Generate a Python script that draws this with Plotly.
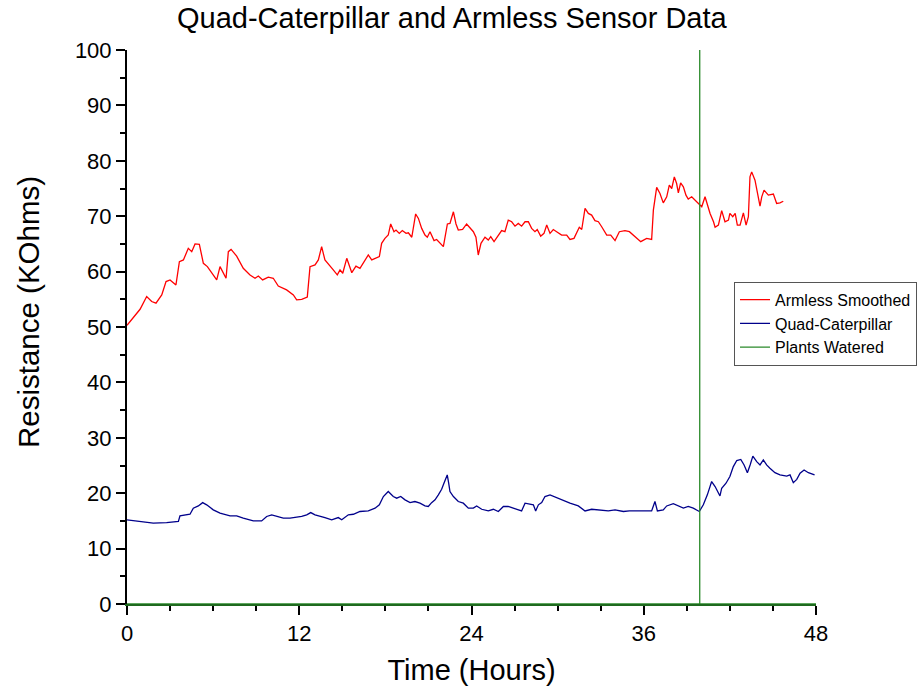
import plotly.graph_objects as go

# Armless sensor, smoothed resistance (KOhms) vs time (hours)
armless_t = [0, 0.35, 0.91, 1.37, 1.72, 2.02, 2.42, 2.72, 3.0, 3.41, 3.65, 3.93, 4.27, 4.51, 4.74, 5.04,
             5.32, 5.6, 6.25, 6.48, 6.71, 6.9, 7.06, 7.25, 7.64, 8.1, 8.57, 8.92, 9.15, 9.45, 9.84, 10.19,
             10.54, 11.12, 11.59, 11.82, 12.17, 12.56, 12.75, 13.1, 13.33, 13.56, 13.79, 14.14, 14.37, 14.65,
             14.84, 15.03, 15.31, 15.66, 15.95, 16.23, 16.81, 17.05, 17.58, 17.74, 17.97, 18.2, 18.37, 18.6,
             18.74, 18.97, 19.18, 19.44, 19.6, 19.84, 20.11, 20.3, 20.53, 20.76, 20.92, 21.11, 21.39, 21.57,
             21.92, 22.04, 22.32, 22.5, 22.74, 22.92, 23.08, 23.38, 23.66, 23.9, 24.13, 24.31, 24.47, 24.66,
             24.94, 25.17, 25.34, 25.57, 25.87, 26.1, 26.33, 26.56, 26.8, 27.03, 27.26, 27.49, 27.73, 27.96,
             28.19, 28.42, 28.58, 28.82, 29.05, 29.24, 29.47, 29.7, 29.93, 30.28, 30.63, 30.86, 31.14, 31.33,
             31.51, 31.68, 31.91, 32.14, 32.37, 32.6, 32.84, 33.07, 33.42, 33.7, 34.0, 34.3, 34.69, 35.0,
             35.28, 35.79, 36.2, 36.55, 36.67, 36.9, 37.13, 37.36, 37.6, 37.78, 37.95, 38.13, 38.29, 38.41,
             38.57, 38.76, 38.94, 39.1, 39.34, 39.57, 39.8, 40.04, 40.27, 40.43, 40.62, 40.86, 40.97, 41.2,
             41.43, 41.66, 41.9, 42.0, 42.2, 42.37, 42.52, 42.71, 42.94, 43.13, 43.29, 43.4, 43.52, 43.75,
             43.91, 44.1, 44.22, 44.38, 44.68, 45.03, 45.26, 45.49, 45.72]
armless_r = [50.3, 51.5, 53.2, 55.5, 54.6, 54.3, 55.8, 58.2, 58.5, 57.6, 61.8, 62.1, 64.2, 63.6, 65.0, 64.9,
             61.5, 60.9, 58.5, 60.9, 59.8, 58.8, 63.6, 64.0, 62.8, 60.6, 59.4, 58.8, 59.2, 58.5, 59.0, 58.8,
             57.4, 56.7, 55.8, 54.9, 55.0, 55.4, 60.9, 61.2, 62.1, 64.5, 62.1, 60.9, 60.3, 59.4,
             60.3, 59.7, 62.4, 59.8, 61.0, 60.6, 63.0, 62.1, 62.7, 65.1, 66.0, 66.6, 68.6, 67.2,
             67.5, 66.9, 67.4, 66.9, 67.0, 66.2, 70.4, 69.6, 67.8, 66.6, 66.2, 67.2, 65.6, 65.8,
             64.8, 64.5, 68.6, 68.7, 70.8, 68.6, 67.5, 67.6, 68.6, 67.8, 67.2, 66.2, 63.0, 65.1,
             66.2, 65.7, 66.3, 65.4, 66.6, 67.4, 67.2, 69.3, 69.0, 68.2, 68.7, 68.2, 69.0, 69.0,
             67.8, 67.2, 67.6, 66.4, 66.9, 68.4, 66.9, 67.6, 67.2, 66.6, 66.6, 65.8, 66.0, 66.9,
             68.0, 67.6, 71.4, 70.5, 70.2, 69.2, 69.0, 68.1, 66.6, 66.6, 65.6, 67.2, 67.4, 67.2,
             66.6, 65.4, 66.0, 65.8, 71.1, 75.2, 74.1, 72.4, 73.5, 75.6, 75.0, 77.1, 75.9, 74.2,
             76.0, 75.3, 73.8, 73.1, 73.5, 72.9, 72.4, 71.7, 73.5, 72.0, 70.5, 69.0, 68.0, 68.4,
             71.0, 69.0, 69.3, 70.5, 69.9, 70.5, 68.4, 68.4, 70.6, 68.4, 69.9, 77.1, 78.0, 76.5,
             74.4, 71.8, 73.5, 74.7, 73.8, 74.0, 72.3, 72.4, 72.7]

# Quad-Caterpillar sensor resistance (KOhms) vs time (hours)
quad_t = [0, 0.91, 1.83, 2.76, 3.58, 3.69, 4.04, 4.39, 4.62, 4.97, 5.27, 5.55, 6.01, 6.48, 7.18, 7.64,
          8.1, 8.8, 9.38, 9.73, 10.08, 10.43, 10.89, 11.36, 11.82, 12.17, 12.52, 12.8, 13.1, 13.45, 13.79,
          14.26, 14.72, 14.96, 15.42, 15.77, 16.23, 16.81, 17.28, 17.58, 17.86, 18.2, 18.55, 18.79, 19.07,
          19.37, 19.72, 20.06, 20.41, 20.76, 20.99, 21.22, 21.46, 21.69, 21.92, 22.08, 22.22, 22.31, 22.41,
          22.5, 22.74, 23.08, 23.43, 23.78, 24.13, 24.36, 24.71, 25.17, 25.52, 25.87, 26.22, 26.56, 26.91,
          27.26, 27.49, 27.73, 28.08, 28.31, 28.47, 28.66, 28.89, 29.12, 29.47, 29.82, 30.28, 30.86, 31.44,
          31.91, 32.37, 32.95, 33.53, 34.0, 34.58, 35.0, 35.28, 36.55, 36.78, 36.95, 37.36, 37.6, 38.06,
          38.41, 38.76, 39.1, 39.45, 39.87, 40.15, 40.43, 40.73, 40.97, 41.31, 41.43, 41.73, 42.0, 42.24,
          42.48, 42.76, 42.99, 43.22, 43.41, 43.6, 43.87, 44.1, 44.33, 44.56, 44.79, 45.14, 45.49, 45.96,
          46.19, 46.42, 46.66, 46.89, 47.17, 47.47, 47.9]
quad_r = [15.2, 14.9, 14.6, 14.7, 14.9, 15.9, 16.1, 16.2, 17.3, 17.7, 18.3, 17.9, 17.0, 16.4, 15.9, 15.9,
          15.5, 15.0, 15.0, 15.8, 16.1, 15.8, 15.5, 15.5, 15.6, 15.8, 16.1, 16.5, 16.1, 15.9, 15.6,
          15.2, 15.6, 15.2, 16.1, 16.2, 16.7, 16.8, 17.3, 17.9, 19.4, 20.3, 19.4, 19.1, 19.4,
          18.8, 18.3, 18.5, 18.2, 17.7, 17.6, 18.3, 18.8, 19.7, 20.7, 21.8, 22.9, 23.3, 21.8,
          20.3, 19.4, 18.5, 18.2, 17.3, 17.3, 17.7, 17.1, 16.8, 17.1, 16.7, 17.6, 17.6, 17.3,
          17.0, 16.8, 18.2, 18.1, 17.9, 16.8, 17.9, 18.3, 19.4, 19.7, 19.3, 18.8, 18.2, 17.7,
          16.8, 17.1, 17.0, 16.8, 17.0, 16.7, 16.8, 16.8, 16.8, 18.5, 16.8, 17.0, 17.7, 18.1,
          17.7, 17.3, 17.6, 17.3, 16.7, 17.9, 19.7, 22.1, 21.2, 19.5, 20.9, 21.8, 23.0, 24.8,
          25.9, 26.1, 25.1, 23.7, 25.1, 26.7, 25.7, 25.1, 26.0, 25.1, 24.5, 23.7, 23.3, 23.1,
          23.3, 21.9, 22.5, 23.6, 24.2, 23.7, 23.3]

# Watering event marker (drops to the baseline either side)
watered_t = [0, 39.9, 39.9, 39.9, 48]
watered_r = [0, 0, 100, 0, 0]

FONT = "Liberation Sans, Arial, sans-serif"

fig = go.Figure()
fig.add_trace(go.Scatter(x=armless_t, y=armless_r, mode="lines", name="Armless Smoothed",
                         line=dict(color="#ff0000", width=1.3)))
fig.add_trace(go.Scatter(x=quad_t, y=quad_r, mode="lines", name="Quad-Caterpillar",
                         line=dict(color="#00008b", width=1.3)))
fig.add_trace(go.Scatter(x=watered_t, y=watered_r, mode="lines", name="Plants Watered",
                         line=dict(color="#2a8a2a", width=1.3)))

axis_common = dict(
    showgrid=False, zeroline=False, showline=True, linewidth=2,
    ticks="outside", tickcolor="black", tickwidth=2, ticklen=9,
    tickfont=dict(family=FONT, size=22, color="black"), mirror=False,
)

fig.update_xaxes(range=[0, 48], tick0=0, dtick=12, linecolor="#1f6a1f",
                 minor=dict(dtick=3, ticks="outside", ticklen=5, tickwidth=2, tickcolor="black"),
                 title=dict(text="Time (Hours)", font=dict(family=FONT, size=29, color="black"),
                            standoff=14),
                 **axis_common)
fig.update_yaxes(range=[0, 100], tick0=0, dtick=10, linecolor="black",
                 minor=dict(dtick=5, ticks="outside", ticklen=5, tickwidth=2, tickcolor="black"),
                 **axis_common)

fig.add_annotation(text="Resistance (KOhms)", textangle=-90, xref="paper", yref="paper",
                   x=-0.1437, y=0.527, xanchor="center", yanchor="middle", showarrow=False,
                   font=dict(family=FONT, size=29.5, color="black"))

fig.update_layout(
    width=924, height=696,
    margin=dict(l=127, r=108, t=50, b=92, autoexpand=False),
    paper_bgcolor="white", plot_bgcolor="white",
    title=dict(text="Quad-Caterpillar and Armless Sensor Data", x=0.489, xref="container",
               y=0.974, yref="container", xanchor="center", yanchor="middle",
               font=dict(family=FONT, size=29, color="black")),
    legend=dict(x=0.881, y=0.506, xanchor="left", yanchor="middle",
                bgcolor="white", bordercolor="#555555", borderwidth=1,
                font=dict(family=FONT, size=16, color="black"),
                tracegroupgap=0, itemwidth=30),
    showlegend=True,
)

fig.write_html("out.html")
